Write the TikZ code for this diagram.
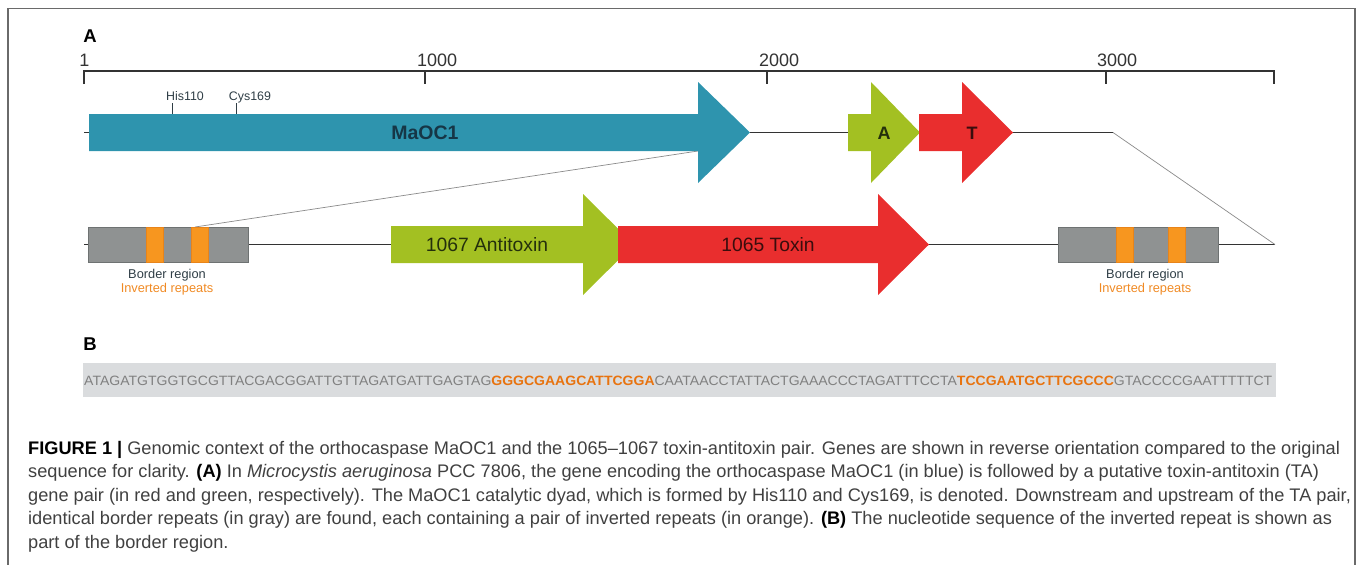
\documentclass[tikz,border=0pt]{standalone}
\usepackage{fontspec}
\setmainfont{Liberation Sans}
\usepackage{graphicx}
\definecolor{teal1}{HTML}{2E94AE}
\definecolor{green1}{HTML}{A3C022}
\definecolor{red1}{HTML}{E92E2E}
\definecolor{gray1}{HTML}{8F9292}
\definecolor{grayedge}{HTML}{6E7272}
\definecolor{orange1}{HTML}{F7961F}
\definecolor{oredge}{HTML}{E8841A}
\definecolor{orangetxt}{HTML}{F08A24}
\definecolor{seqgray}{HTML}{DADCDE}
\definecolor{seqtxt}{HTML}{808080}
\definecolor{seqor}{HTML}{E8730F}
\definecolor{labdark}{HTML}{2F3E46}
\definecolor{rulecol}{HTML}{333333}
\definecolor{zoomcol}{HTML}{8A8A8A}
\definecolor{captxt}{HTML}{404040}
\definecolor{framecol}{HTML}{6A6A6A}
\definecolor{maoctxt}{HTML}{163646}
\definecolor{atxt}{HTML}{24300C}
\definecolor{ttxt}{HTML}{3A0D0D}
\tikzset{
  rul/.style={draw=rulecol, line width=1.3pt},
  geneline/.style={draw=rulecol, line width=1.3pt},
  zoomline/.style={draw=zoomcol, line width=0.7pt},
  tickline/.style={draw=labdark, line width=1pt},
  graybox/.style={fill=gray1, draw=grayedge, line width=0.8pt},
  orbox/.style={fill=orange1, draw=oredge, line width=0.8pt},
  panel/.style={font=\bfseries\fontsize{18.5}{20}\selectfont, text=black, inner sep=0},
  scalelab/.style={font=\fontsize{18}{20}\selectfont, text=rulecol, anchor=base west, inner sep=0},
  sitelab/.style={font=\fontsize{12.4}{14}\selectfont, text=labdark, anchor=base, inner sep=0},
  genelab/.style={font=\bfseries\fontsize{19.5}{20}\selectfont, inner sep=0},
  tagene/.style={font=\fontsize{19.3}{20}\selectfont, inner sep=0},
  borderlab/.style={font=\fontsize{12.8}{14}\selectfont, text=labdark, inner sep=0},
  invlab/.style={font=\fontsize{12.8}{14}\selectfont, text=orangetxt, inner sep=0},
  capline/.style={font=\fontsize{18.2}{20}\selectfont, text=captxt, anchor=base west, inner sep=0}
}
\begin{document}
\begin{tikzpicture}[x=1pt,y=-1pt]
\useasboundingbox (0,0) rectangle (1358,565);
% frame
\draw[framecol, line width=1.2pt] (8,640) -- (8,8.5) -- (1355,8.5) -- (1355,640);
% panel labels
\node[panel] (pA) at (90,36) {A};
\node[panel] (pB) at (90,344) {B};
% ruler
\draw[rul] (84,84) -- (84,71) -- (1274,71) -- (1274,84);
\foreach \x in {425,767,1106} \draw[rul] (\x,71) -- (\x,84);
\node[scalelab, anchor=base] (r1) at (84.5,66) {1};
\node[scalelab] (r1000) at (417,66) {1000};
\node[scalelab] (r2000) at (759,66) {2000};
\node[scalelab] (r3000) at (1097,66) {3000};
% top gene line
\coordinate (topL) at (84,132.5);
\coordinate (maocTip) at (750,132.5);
\coordinate (maocBase) at (698,151);
\coordinate (aL) at (848,132.5);
\coordinate (tTip) at (1013,132.5);
\coordinate (bend) at (1113,132.5);
\coordinate (lowEnd) at (1275,244.5);
\coordinate (lowL) at (84,244.5);
\coordinate (stripeTop) at (195,227);
\draw[geneline] (topL) -- (89,132.5);
\draw[geneline] (maocTip) -- (aL);
\draw[geneline] (tTip) -- (bend);
\draw[geneline] (lowL) -- (lowEnd);
% zoom lines
\draw[zoomline] (maocBase) -- (stripeTop);
\draw[zoomline] (bend) -- (lowEnd);
% MaOC1 arrow
\fill[teal1] (89,114) -- (698,114) -- (698,82) -- (maocTip) -- (698,183) -- (698,151) -- (89,151) -- cycle;
\node[genelab, text=maoctxt] (maoc) at (425,132.5) {MaOC1};
\draw[tickline] (172,103) -- (172,114);
\draw[tickline] (236,103) -- (236,114);
\node[sitelab] (his) at (185,100) {His110};
\node[sitelab] (cys) at (250,100) {Cys169};
% A and T arrows
\fill[green1] (848,114) -- (871,114) -- (871,82) -- (920,132.5) -- (871,183) -- (871,151) -- (848,151) -- cycle;
\fill[red1] (919,114) -- (962,114) -- (962,82) -- (tTip) -- (962,183) -- (962,151) -- (919,151) -- cycle;
\node[genelab, font=\bfseries\fontsize{18}{20}\selectfont, text=atxt] (agene) at (884,133) {A};
\node[genelab, font=\bfseries\fontsize{18}{20}\selectfont, text=ttxt] (tgene) at (972,133) {T};
% border boxes
\draw[graybox] (88,227) rectangle (248,262);
\draw[orbox] (146,227) rectangle (163,262);
\draw[orbox] (191,227) rectangle (208,262);
\draw[graybox] (1058,227) rectangle (1218,262);
\draw[orbox] (1116,227) rectangle (1133,262);
\draw[orbox] (1168,227) rectangle (1185,262);
\node[borderlab] (bl1) at (167,275) {Border region};
\node[invlab] (il1) at (167,289.5) {Inverted repeats};
\node[borderlab] (bl2) at (1145,275) {Border region};
\node[invlab] (il2) at (1145,289.5) {Inverted repeats};
% TA pair
\fill[green1] (391,226) -- (583,226) -- (583,194) -- (634,244.5) -- (583,295) -- (583,263) -- (391,263) -- cycle;
\fill[red1] (618,226) -- (878,226) -- (878,194) -- (929,244.5) -- (878,295) -- (878,263) -- (618,263) -- cycle;
\node[tagene, text=atxt] (antitox) at (487,245) {1067 Antitoxin};
\node[tagene, text=ttxt] (tox) at (768,245) {1065 Toxin};
% sequence
\fill[seqgray] (83,363) rectangle (1276,397);
\node[anchor=west, inner sep=0, font=\fontsize{13.5}{14}\selectfont, text=seqtxt] (seq) at (84,380.5)
 {\resizebox{1188pt}{\height}{ATAGATGTGGTGCGTTACGACGGATTGTTAGATGATTGAGTAG\textcolor{seqor}{\bfseries GGGCGAAGCATTCGGA}CAATAACCTATTACTGAAACCCTAGATTTCCTA\textcolor{seqor}{\bfseries TCCGAATGCTTCGCCC}GTACCCCGAATTTTTCT}};
% caption
\node[capline] (c1) at (28,454) {\textcolor{black}{\bfseries FIGURE 1 |} Genomic context of the orthocaspase MaOC1 and the 1065--1067 toxin-antitoxin pair. Genes are shown in reverse orientation compared to the original};
\node[capline] (c2) at (28,477.5) {sequence for clarity. \textcolor{black}{\bfseries (A)} In \textit{Microcystis aeruginosa} PCC 7806, the gene encoding the orthocaspase MaOC1 (in blue) is followed by a putative toxin-antitoxin (TA)};
\node[capline] (c3) at (28,501) {gene pair (in red and green, respectively). The MaOC1 catalytic dyad, which is formed by His110 and Cys169, is denoted. Downstream and upstream of the TA pair,};
\node[capline] (c4) at (28,524.5) {identical border repeats (in gray) are found, each containing a pair of inverted repeats (in orange). \textcolor{black}{\bfseries (B)} The nucleotide sequence of the inverted repeat is shown as};
\node[capline] (c5) at (28,548) {part of the border region.};
\end{tikzpicture}
\end{document}
